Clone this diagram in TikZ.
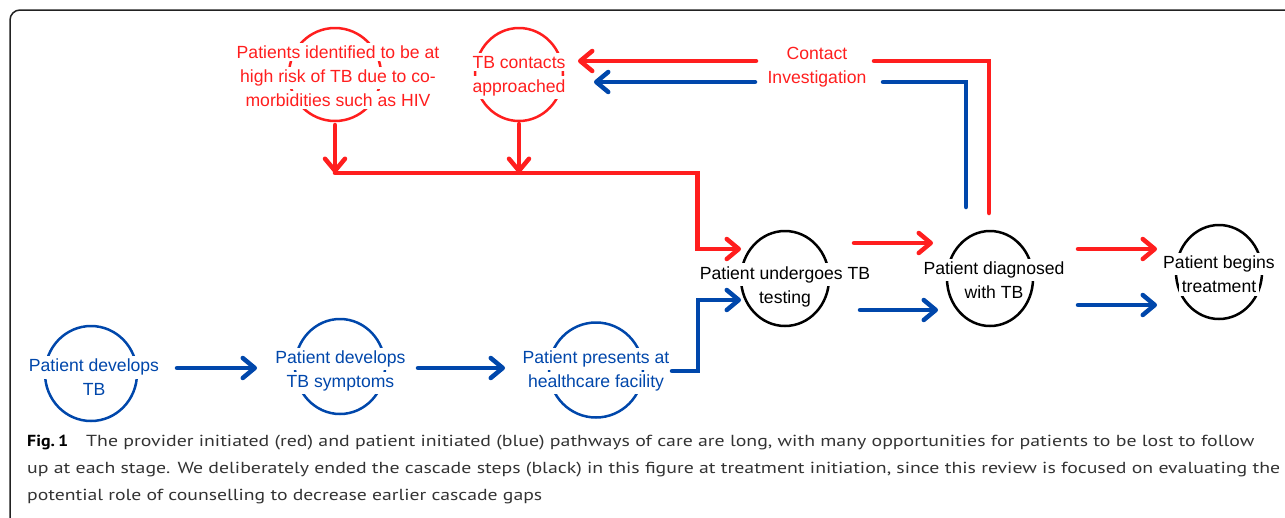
\documentclass[tikz,border=0pt]{standalone}
\usepackage{fontspec}
\usepackage{graphicx}
\setmainfont{Liberation Sans}
\newfontfamily\capfont{PT Sans}
\usetikzlibrary{arrows.meta,shapes.geometric}
\definecolor{myred}{HTML}{FF1E1E}
\definecolor{myblue}{HTML}{0047AB}
\definecolor{framegray}{HTML}{222222}
\definecolor{capgray}{HTML}{333333}
\setlength{\fboxsep}{3pt}
\newcommand\wl[1]{\colorbox{white}{#1}}
\tikzset{
  ring/.style={draw, shape=ellipse, line width=2.5pt, inner sep=0pt, outer sep=0pt},
  lbl/.style={font=\fontsize{17.6}{24}\selectfont, align=center, inner sep=0pt},
  conn/.style={line width=4.5pt, line cap=round, line join=miter},
  tipped/.style={conn, -{Straight Barb[length=12pt,width=20pt,round]}},
  rline/.style={conn, draw=myred},
  bline/.style={conn, draw=myblue},
  rarrow/.style={tipped, draw=myred},
  barrow/.style={tipped, draw=myblue},
  capline/.style={anchor=base west, inner sep=0pt, font=\capfont\fontsize{16}{20}\selectfont, text=capgray},
}
\begin{document}
\begin{tikzpicture}[x=1pt,y=-1pt]
\useasboundingbox (0,0) rectangle (1285,517);
\begin{scope}
  \clip (0,0) rectangle (1285,517);
  \draw[framegray, line width=1.5pt, rounded corners=10pt] (1300,10) -- (10,10) -- (10,530) -- (1300,530);
\end{scope}

% red circles
\node[ring, draw=myred, minimum width=92pt, minimum height=93pt] (rc1) at (335,74.5) {};
\node[ring, draw=myred, minimum width=88pt, minimum height=93pt] (rc2) at (519,74.5) {};
% black circles
\node[ring, draw=black, minimum width=88pt, minimum height=95pt] (bc1) at (785,278.5) {};
\node[ring, draw=black, minimum width=86pt, minimum height=95pt] (bc2) at (990,278.5) {};
\node[ring, draw=black, minimum width=86pt, minimum height=94pt] (bc3) at (1219,272) {};
% blue circles
\node[ring, draw=myblue, minimum width=92pt, minimum height=95pt] (b1) at (91,373.5) {};
\node[ring, draw=myblue, minimum width=90pt, minimum height=95pt] (b2) at (340,366.5) {};
\node[ring, draw=myblue, minimum width=94pt, minimum height=95pt] (b3) at (596,370) {};

% labels
\node[lbl, text=myred] (t1) at (338,76) {\wl{Patients identified to be at}\\\wl{high risk of TB due to co-}\\\wl{morbidities such as HIV}};
\node[lbl, text=myred] (t2) at (519,76) {\wl{TB contacts}\\\wl{approached}};
\node[lbl, text=myred, inner sep=3pt] (ci) at (817,67) {Contact\\Investigation};
\node[lbl, text=black] (t3) at (785,286.5) {\wl{Patient undergoes TB}\\\wl{testing}};
\node[lbl, text=black] (t4) at (994,280) {\wl{Patient diagnosed}\\\wl{with TB}};
\node[lbl, text=black] (t5) at (1219,274.5) {\wl{Patient begins}\\\wl{treatment}};
\node[lbl, text=myblue] (t6) at (94,377.5) {\wl{Patient develops}\\\wl{TB}};
\node[lbl, text=myblue] (t7) at (340.5,371) {\wl{Patient develops}\\\wl{TB symptoms}};
\node[lbl, text=myblue] (t8) at (596,371) {\wl{Patient presents at}\\\wl{healthcare facility}};

% coordinates
\coordinate (jy) at (0,173);
\coordinate (jr) at (697.5,173);
\coordinate (r12s) at (854,243);
\coordinate (r12e) at (933,243);
\coordinate (b12s) at (860,310);
\coordinate (b12e) at (938,310);
\coordinate (r23s) at (1078,249);
\coordinate (r23e) at (1157,249);
\coordinate (b23s) at (1078,305);
\coordinate (b23e) at (1157,305);
\coordinate (rcs) at (989,213);
\coordinate (rcc) at (989,61);
\coordinate (rce) at (874,61);
\coordinate (rca) at (756,61);
\coordinate (rct) at (578,61);
\coordinate (bcs) at (966,207);
\coordinate (bcc) at (966,82);
\coordinate (bce) at (883,82);
\coordinate (bca) at (755,82);
\coordinate (bct) at (594,82);
\coordinate (a1s) at (177,368);
\coordinate (a1e) at (257,368);
\coordinate (a2s) at (418,368);
\coordinate (a2e) at (505,368);
\coordinate (a3s) at (672,371);
\coordinate (a3c) at (698,371);

% red connectors
\draw[rarrow] ([yshift=-4pt]rc1.south) -- (rc1.south |- jy);
\draw[rarrow] ([yshift=-3pt]rc2.south) -- (rc2.south |- jy);
\draw[rarrow] (rc1.south |- jy) -- (jr) -- (jr |- 0,249) -- (bc1.west |- 0,249);
\draw[rarrow] (r12s) -- (r12e);
\draw[rarrow] (r23s) -- (r23e);
\draw[rline] (rcs) -- (rcc) -- (rce);
\draw[rarrow] (rca) -- (rct);
% blue connectors
\draw[bline] (bcs) -- (bcc) -- (bce);
\draw[barrow] (bca) -- (bct);
\draw[barrow] (b12s) -- (b12e);
\draw[barrow] (b23s) -- (b23e);
\draw[barrow] (a1s) -- (a1e);
\draw[barrow] (a2s) -- (a2e);
\draw[barrow] (a3s) -- (a3c) -- (a3c |- 0,300) -- (bc1.west |- 0,300);

% caption
\node[capline, text=black] (fig) at (27,446) {\resizebox{41pt}{\height}{\bfseries Fig.\,1}};
\node[capline] (cap1) at (86,446) {\resizebox{1168pt}{\height}{The provider initiated (red) and patient initiated (blue) pathways of care are long, with many opportunities for patients to be lost to follow}};
\node[capline] (cap2) at (27,473) {\resizebox{1253pt}{\height}{up at each stage. We deliberately ended the cascade steps (black) in this figure at treatment initiation, since this review is focused on evaluating the}};
\node[capline] (cap3) at (27,500) {\resizebox{515pt}{\height}{potential role of counselling to decrease earlier cascade gaps}};
\end{tikzpicture}
\end{document}
